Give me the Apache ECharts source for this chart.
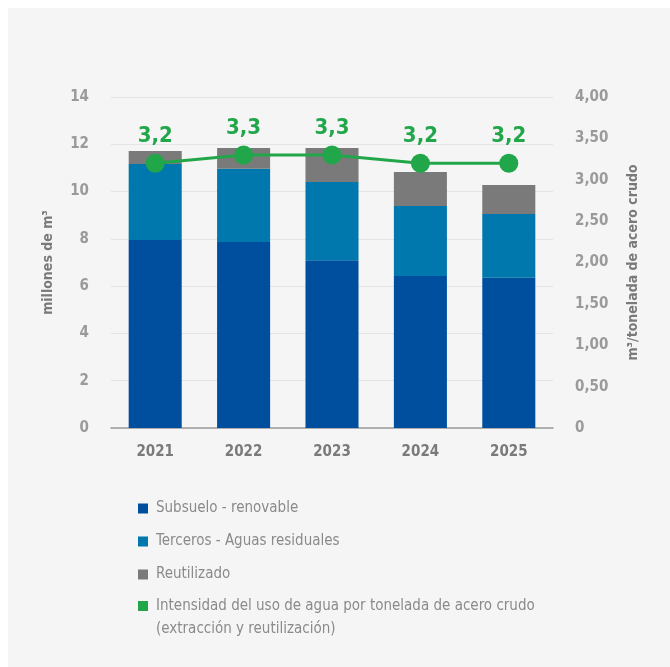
<!DOCTYPE html>
<html>
<head>
<meta charset="utf-8">
<script src="https://cdn.jsdelivr.net/npm/echarts@6/dist/echarts.min.js"></script>
<style>
  html, body { margin: 0; padding: 0; background: #ffffff; }
  #panel { position: absolute; left: 8px; top: 8px; width: 662px; height: 659px; background: #f5f5f5; }
  #chart { position: absolute; left: 0; top: 0; width: 670px; height: 667px; }
</style>
</head>
<body>
<div id="panel"></div>
<div id="chart"></div>
<script>
// Water withdrawal by source (millions of m³) and intensity per tonne of crude steel
const years = ['2021', '2022', '2023', '2024', '2025'];
const subsuelo = [7.95, 7.87, 7.10, 6.43, 6.35];
const terceros = [3.22, 3.09, 3.31, 2.96, 2.70];
const reutilizado = [0.55, 0.88, 1.43, 1.44, 1.23];
const intensidad = [3.2, 3.3, 3.3, 3.2, 3.2];

const leftTicks = { min: 0, max: 14, interval: 2 };
const rightTicks = { min: 0, max: 4, interval: 0.5 };

const names = {
  sub: 'Subsuelo - renovable',
  ter: 'Terceros - Aguas residuales',
  reu: 'Reutilizado',
  int: 'Intensidad del uso de agua por tonelada de acero crudo (extracción y reutilización)'
};

const FONT = '"Liberation Sans Narrow", "DejaVu Sans Condensed", "Roboto", sans-serif';
const GREEN = '#21a64a';

const chart = echarts.init(document.getElementById('chart'), null, { renderer: 'canvas' });

const tickLabel = { color: '#9a9a9a', fontFamily: FONT, fontWeight: 'bold', fontSize: 15 };
const axisName = { color: '#7a7a7a', fontFamily: FONT, fontWeight: 'bold', fontSize: 14 };
const legendText = { color: '#8a8a8a', fontFamily: FONT, fontSize: 15, lineHeight: 23 };

chart.setOption({
  backgroundColor: 'transparent',
  animation: false,
  grid: { left: 111, right: 117, top: 97, bottom: 239 },
  legend: [
    {
      orient: 'vertical', left: 138, top: 497, padding: 0,
      itemWidth: 10, itemHeight: 10, itemGap: 10, icon: 'rect',
      data: [names.sub, names.ter, names.reu],
      textStyle: Object.assign({ padding: [0, 0, 0, 3] }, legendText)
    },
    {
      // the empty first line keeps the icon level with the first line of text
      orient: 'vertical', left: 138, top: 571.5, padding: 0,
      itemWidth: 10, itemHeight: 10, icon: 'rect',
      data: [names.int],
      formatter: function () {
        return '\nIntensidad del uso de agua por tonelada de acero crudo\n(extracción y reutilización)';
      },
      textStyle: Object.assign({ padding: [0, 0, 0, 3] }, legendText)
    }
  ],
  xAxis: {
    type: 'category',
    data: years,
    axisTick: { show: false },
    axisLine: { lineStyle: { color: '#9a9a9a', width: 1.5 } },
    axisLabel: { color: '#7a7a7a', fontFamily: FONT, fontWeight: 'bold', fontSize: 15, margin: 17 }
  },
  yAxis: [
    {
      type: 'value',
      min: leftTicks.min, max: leftTicks.max, interval: leftTicks.interval,
      name: 'millones de m³', nameLocation: 'middle', nameRotate: 90, nameGap: 56,
      nameTextStyle: axisName,
      axisLabel: Object.assign({ margin: 22 }, tickLabel),
      axisLine: { show: false }, axisTick: { show: false },
      splitLine: { lineStyle: { color: '#e4e4e4', width: 1 } }
    },
    {
      type: 'value',
      min: rightTicks.min, max: rightTicks.max, interval: rightTicks.interval,
      name: 'm³/tonelada de acero crudo', nameLocation: 'middle', nameRotate: 90, nameGap: 73,
      nameTextStyle: axisName,
      axisLabel: Object.assign({
        margin: 22,
        formatter: function (v) { return v === 0 ? '0' : v.toFixed(2).replace('.', ','); }
      }, tickLabel),
      axisLine: { show: false }, axisTick: { show: false },
      splitLine: { show: false }
    }
  ],
  series: [
    { name: names.sub, type: 'bar', stack: 'agua', data: subsuelo, barWidth: '60%', itemStyle: { color: '#004f9e' } },
    { name: names.ter, type: 'bar', stack: 'agua', data: terceros, itemStyle: { color: '#0077ad' } },
    { name: names.reu, type: 'bar', stack: 'agua', data: reutilizado, itemStyle: { color: '#7a7a7a' } },
    {
      name: names.int, type: 'line', yAxisIndex: 1, data: intensidad,
      symbol: 'circle', symbolSize: 19,
      lineStyle: { color: GREEN, width: 3 },
      itemStyle: { color: GREEN },
      label: {
        show: true, position: 'top', distance: 6,
        color: GREEN, fontFamily: FONT, fontWeight: 'bold', fontSize: 22,
        formatter: function (p) { return p.value.toFixed(1).replace('.', ','); }
      },
      z: 5
    }
  ]
});
</script>
</body>
</html>
